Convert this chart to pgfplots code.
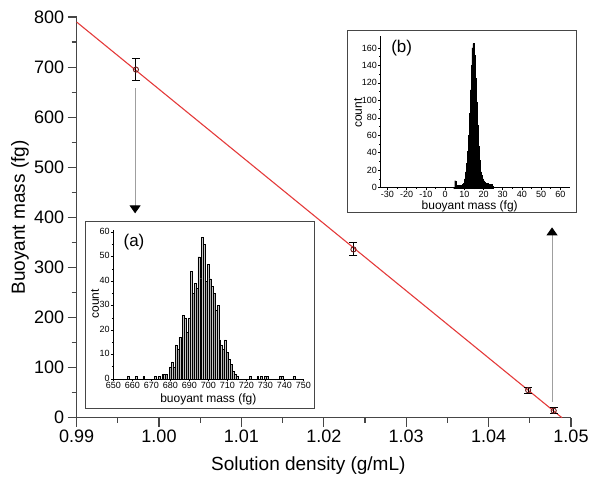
\documentclass[border=0pt]{standalone}
\usepackage{pgfplots}
\pgfplotsset{compat=1.18}
\usepackage{fontspec}
\setmainfont{Liberation Sans}
\usetikzlibrary{arrows.meta}
\definecolor{axgray}{RGB}{70,70,70}
\definecolor{fitred}{RGB}{228,58,58}
\definecolor{ptcol}{RGB}{110,30,30}
\begin{document}
\begin{tikzpicture}
\useasboundingbox (0,0) rectangle (600pt,485pt);
% ---------------- main axis ----------------
\begin{axis}[
  at={(76.6pt,67.3pt)}, anchor=south west,
  scale only axis, width=494.4pt, height=400.7pt,
  xmin=0.99, xmax=1.05, ymin=0, ymax=800,
  axis lines*=left,
  axis line style={axgray, line width=1.3pt},
  tick align=outside, major tick length=9pt, minor tick length=5pt,
  every tick/.style={axgray, line width=1.1pt},
  xtick={0.99,1,1.01,1.02,1.03,1.04,1.05}, minor x tick num=1,
  ytick={0,100,200,300,400,500,600,700,800}, minor y tick num=1,
  scaled x ticks=false, scaled y ticks=false,
  /pgf/number format/assume math mode=true,
  xticklabel style={/pgf/number format/fixed, /pgf/number format/fixed zerofill, /pgf/number format/precision=2},
  tick label style={font=\fontsize{18}{20}\selectfont},
  label style={font=\fontsize{19}{21}\selectfont},
  xlabel={Solution density (g/mL)}, ylabel={Buoyant mass (fg)},
  xlabel style={at={(axis description cs:0.4687,-0.1205)}, anchor=center},
  ylabel style={at={(axis description cs:-0.1145,0.5)}, anchor=center},
  clip=false,
]
\addplot[fitred, line width=1.1pt] coordinates {(0.99,790) (1.0489,0)};
\addplot[only marks, mark=o, mark size=2.6pt,
  mark options={draw=ptcol, line width=0.9pt},
  error bars/.cd, y dir=both, y explicit,
  error bar style={black, line width=0.9pt},
  error mark options={rotate=90, mark size=4pt, black, line width=0.9pt}]
  coordinates {
  (0.9972,695) +- (0,22)
  (1.0236,336) +- (0,13)
  (1.0448,55) +- (0,6)
  (1.0479,14) +- (0,6)
  };
\draw[gray!75, line width=1pt, -{Triangle[width=11pt,length=8pt,black]}]
  (axis cs:0.9971,658) -- (axis cs:0.9971,408);
\draw[gray!75, line width=1pt, -{Triangle[width=11pt,length=8pt,black]}]
  (axis cs:1.0477,32) -- (axis cs:1.0477,380);
\end{axis}
% ---------------- inset boxes ----------------
\filldraw[fill=white, draw=axgray, line width=1pt] (85pt,76pt) rectangle (314pt,263pt);
\filldraw[fill=white, draw=axgray, line width=1pt] (347pt,272pt) rectangle (576pt,454.3pt);
% ---------------- inset (a) ----------------
\begin{axis}[
  at={(113.3pt,106pt)}, anchor=south west,
  scale only axis, width=190pt, height=149.2pt,
  xmin=650, xmax=750, ymin=0, ymax=61,
  axis lines*=left,
  axis line style={black, line width=0.7pt},
  tick align=outside, major tick length=2.5pt, minor tick length=1.5pt,
  every tick/.style={black, line width=0.6pt},
  xtick={650,660,...,750}, minor x tick num=1,
  ytick={0,10,...,60}, minor y tick num=1,
  /pgf/number format/assume math mode=true,
  tick label style={font=\fontsize{9}{10}\selectfont, inner sep=1pt},
  yticklabel style={yshift=1pt},
  xticklabel style={/pgf/number format/1000 sep={}},
  label style={font=\fontsize{12}{13}\selectfont},
  xlabel={buoyant mass (fg)}, ylabel={count},
  xlabel style={at={(axis description cs:0.5,-0.134)}, anchor=center},
  ylabel style={at={(axis description cs:-0.096,0.503)}, anchor=center},
  clip=false,
]
\addplot[ybar, bar width=1, bar shift=0pt, draw=black, line width=0.35pt, fill=gray!45]
  coordinates {
  (658,1) (662,1) (666,1) (672,1) (674,1) (676,2) (677,2) (681,7) (683,14)
  (685,17) (687,26) (688,25) (690,25) (691,44) (693,39) (695,50) (697,58)
  (698,55) (700,47) (702,38) (704,28) (705,30) (707,14) (709,16) (711,8)
  (713,3) (714,2) (715,1) (722,1) (726,1) (728,1) (730,1) (731,1) (738,1)
  (739,1) (745,1)
  };
\addplot[ybar, bar width=1, bar shift=0pt, draw=black, line width=0.35pt, fill=gray!70]
  coordinates {
  (678,2) (680,5) (682,5) (684,12) (686,10) (689,19) (692,35) (694,37)
  (696,41) (699,40) (701,41) (703,35) (706,16) (708,12) (710,11) (712,6)
  };
\node[font=\fontsize{17}{19}\selectfont] at (axis description cs:0.109,0.92) {(a)};
\end{axis}
% ---------------- inset (b) ----------------
\begin{axis}[
  at={(380.7pt,297.3pt)}, anchor=south west,
  scale only axis, width=189.3pt, height=152pt,
  xmin=-33.5, xmax=65, ymin=0, ymax=174,
  axis lines*=left,
  axis line style={black, line width=0.7pt},
  tick align=outside, major tick length=2.5pt, minor tick length=1.5pt,
  every tick/.style={black, line width=0.6pt},
  xtick={-30,-20,...,60}, minor x tick num=1,
  ytick={0,20,...,160}, minor y tick num=1,
  /pgf/number format/assume math mode=true,
  tick label style={font=\fontsize{9}{10}\selectfont, inner sep=1pt},
  label style={font=\fontsize{12}{13}\selectfont},
  xlabel={buoyant mass (fg)}, ylabel={count},
  xlabel style={at={(axis description cs:0.47,-0.125)}, anchor=center},
  ylabel style={at={(axis description cs:-0.12,0.49)}, anchor=center},
  clip=false,
]
\addplot[ybar interval, fill=black, draw=black, line width=0.3pt]
  coordinates {
  (4.5,0) (5,8) (5.5,4) (6,2) (6.5,3) (7,2) (7.5,3) (8,2) (8.5,3) (9,4)
  (9.5,5) (10,10) (10.5,18) (11,28) (11.5,42) (12,60) (12.5,85) (13,112)
  (13.5,140) (14,160) (14.5,165) (15,152) (15.5,125) (16,98) (16.5,72)
  (17,48) (17.5,32) (18,24) (18.5,18) (19,14) (19.5,10) (20,8) (20.5,6)
  (21,5) (21.5,4) (22,5) (22.5,3) (23,4) (23.5,3) (24,4) (24.5,2) (25,0)
  };
\node[font=\fontsize{17}{19}\selectfont] at (axis description cs:0.111,0.917) {(b)};
\end{axis}
\end{tikzpicture}
\end{document}
